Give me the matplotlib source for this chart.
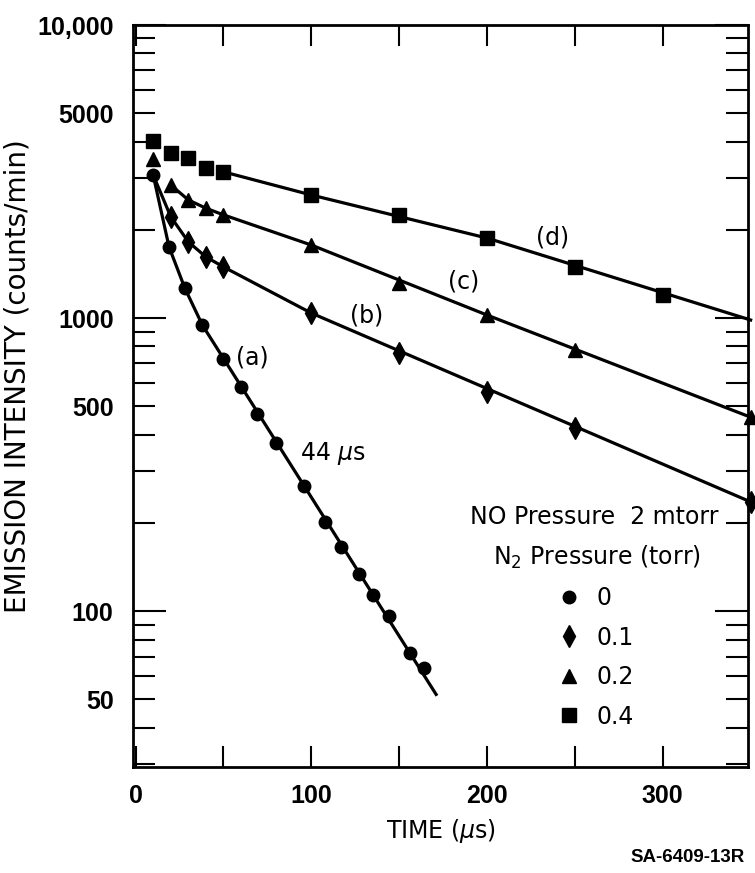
import matplotlib
matplotlib.use("Agg")
import matplotlib.pyplot as plt
from matplotlib.ticker import MultipleLocator, LogLocator, FuncFormatter, NullFormatter

plt.rcParams['font.family'] = ['DejaVu Sans']
plt.rcParams['mathtext.fontset'] = 'dejavusans'

# data (time in us, counts/min)
t_a = [10, 19, 28, 38, 50, 60, 69, 80, 96, 108, 117, 127, 135, 144, 156, 164]
v_a = [3075, 1750, 1265, 946, 724, 581, 470, 374, 267, 201, 165, 134, 114, 96, 72, 64]
t_b = [20, 30, 40, 50, 100, 150, 200, 250, 350]
v_b = [2217, 1820, 1617, 1495, 1040, 760, 558, 422, 236]
t_c = [10, 20, 30, 40, 50, 100, 150, 200, 250, 350]
v_c = [3500, 2845, 2530, 2370, 2250, 1775, 1315, 1024, 778, 459]
t_d = [10, 20, 30, 40, 50, 100, 150, 200, 250, 300]
v_d = [4030, 3660, 3510, 3245, 3155, 2630, 2250, 1875, 1490, 1197]

# drawn curves
line_a_t = [10, 19, 28, 38, 171]
line_a_v = [3075, 1750, 1265, 946, 52]
line_b_t = [10, 20, 30, 40, 50, 100, 350]
line_b_v = [3075, 2217, 1820, 1617, 1495, 1040, 236]
line_c_t = [20, 30, 40, 50, 100, 200, 350]
line_c_v = [2845, 2530, 2370, 2250, 1775, 1024, 459]
line_d_t = [50, 100, 200, 350]
line_d_v = [3155, 2630, 1875, 985]

n2_labels = ['0', '0.1', '0.2', '0.4']

W, H = 755, 873
fig = plt.figure(figsize=(W / 100, H / 100), dpi=100)
ax = fig.add_axes([133 / W, 1 - 767 / H, (748 - 133) / W, (767 - 25) / H])

def px(x, y):
    return x / W, 1 - y / H

lw = 2.3
for lt, lv in [(line_a_t, line_a_v), (line_b_t, line_b_v),
               (line_c_t, line_c_v), (line_d_t, line_d_v)]:
    ax.plot(lt, lv, color='black', lw=lw, clip_on=False, zorder=2)

h_a, = ax.plot(t_a, v_a, 'o', color='black', ms=9, clip_on=False, zorder=3)
h_b, = ax.plot(t_b, v_b, 'd', color='black', ms=11, clip_on=False, zorder=3)
h_c, = ax.plot(t_c, v_c, '^', color='black', ms=10, clip_on=False, zorder=3)
h_d, = ax.plot(t_d, v_d, 's', color='black', ms=10, clip_on=False, zorder=3)

ax.set_yscale('log')
ax.set_xlim(-1.5, 348.5)
ax.set_ylim(29.4, 10000)

ax.xaxis.set_major_locator(MultipleLocator(100))
ax.xaxis.set_minor_locator(MultipleLocator(50))
ax.yaxis.set_major_locator(LogLocator(base=10))
ax.yaxis.set_minor_locator(LogLocator(base=10, subs=range(2, 10)))

def major_fmt(v, pos):
    return '10,000' if round(v) == 10000 else '%d' % round(v)

def minor_fmt(v, pos):
    r = round(v)
    return '%d' % r if r in (50, 500, 5000) else ''

ax.yaxis.set_major_formatter(FuncFormatter(major_fmt))
ax.yaxis.set_minor_formatter(FuncFormatter(minor_fmt))
ax.xaxis.set_minor_formatter(NullFormatter())

tls = 18
ax.tick_params(axis='x', which='both', direction='in', length=15, width=1.5,
               top=True, labelsize=tls, pad=12)
ax.tick_params(axis='y', which='major', direction='in', length=24, width=1.5,
               right=True, labelsize=tls, pad=14)
ax.tick_params(axis='y', which='minor', direction='in', length=16, width=1.5,
               right=True, labelsize=tls, pad=14)
for s in ax.spines.values():
    s.set_linewidth(2.0)

plt.setp(ax.get_xticklabels(), fontweight='bold', family='Liberation Sans')
plt.setp(ax.get_yticklabels(which='both'), fontweight='bold', family='Liberation Sans')

# axis titles
fig.text(*px(18, 376), 'EMISSION INTENSITY (counts/min)', rotation=90,
         ha='center', va='center', fontsize=20)
fig.text(*px(441, 831), 'TIME ($\\mu$s)', ha='center', va='center', fontsize=17)
fig.text(*px(745, 857), 'SA-6409-13R', ha='right', va='center',
         fontsize=13.5, fontweight='bold', family='Liberation Sans')

# curve labels
fs = 17
ax.text(*px(252, 358), '(a)', transform=fig.transFigure, ha='center', va='center', fontsize=fs)
ax.text(*px(367, 315), '(b)', transform=fig.transFigure, ha='center', va='center', fontsize=fs)
ax.text(*px(464, 282), '(c)', transform=fig.transFigure, ha='center', va='center', fontsize=fs)
ax.text(*px(553, 238), '(d)', transform=fig.transFigure, ha='center', va='center', fontsize=fs)
ax.text(*px(300, 453), '44 $\\mu$s', transform=fig.transFigure, ha='left', va='center', fontsize=fs)

# legend
fig.text(*px(594, 517), 'NO Pressure  2 mtorr', ha='center', va='center', fontsize=fs)
fig.text(*px(597, 557), 'N$_2$ Pressure (torr)', ha='center', va='center', fontsize=fs)
ax.legend([h_a, h_b, h_c, h_d], n2_labels, loc='upper left',
          bbox_to_anchor=px(560, 586), bbox_transform=fig.transFigure,
          frameon=False, fontsize=fs, handlelength=0.8, handletextpad=0.75,
          labelspacing=0.66, borderpad=0, borderaxespad=0, numpoints=1)

fig.savefig('out.png', dpi=100)
